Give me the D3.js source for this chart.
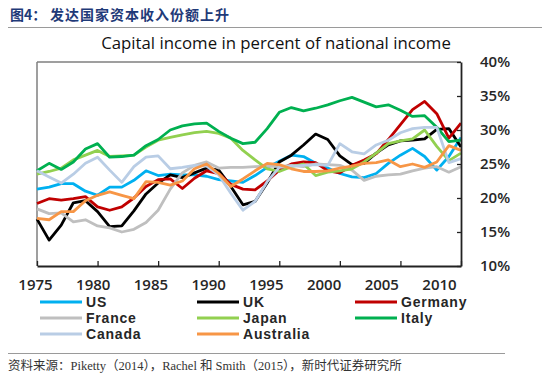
<!DOCTYPE html>
<html><head><meta charset="utf-8">
<script src="https://cdn.jsdelivr.net/npm/d3@7/dist/d3.min.js"></script>
<style>body{margin:0;background:#fff;} svg{display:block;}</style>
</head><body>
<svg id="c" width="550" height="380"></svg>
<script>
// ---- data ----
const years = [1975,1976,1977,1978,1979,1980,1981,1982,1983,1984,1985,1986,1987,1988,1989,1990,1991,1992,1993,1994,1995,1996,1997,1998,1999,2000,2001,2002,2003,2004,2005,2006,2007,2008,2009,2010];
const us        = [21.3,21.6,22.1,22.1,21.0,20.4,21.6,21.6,22.6,24.0,23.3,23.5,23.4,23.4,23.2,22.7,22.5,22.3,23.3,24.5,25.4,26.3,26.1,25.1,24.4,23.6,23.1,23.0,23.6,25.1,26.3,27.3,26.1,24.1,26.1,28.9];
const uk        = [16.9,13.8,16.0,19.3,19.6,18.0,15.8,15.9,18.1,20.6,22.2,23.4,23.0,23.7,24.4,24.1,21.7,19.0,19.5,22.2,25.3,26.3,27.8,29.4,28.6,26.2,24.9,25.1,26.6,27.8,28.4,28.5,28.7,30.1,30.2,27.5];
const germany   = [19.2,19.9,19.7,19.9,20.2,18.7,18.2,18.7,20.0,21.7,22.7,22.8,21.4,22.9,24.0,23.6,22.0,21.3,21.2,22.5,24.1,25.0,25.3,25.2,24.0,23.7,24.8,25.6,26.5,28.6,30.8,33.0,34.2,32.4,28.8,31.0];
const france    = [18.4,17.7,17.8,16.5,16.8,15.9,15.6,15.0,15.4,16.4,18.2,21.3,23.7,24.8,25.3,24.4,24.5,24.5,24.6,24.7,24.6,24.8,24.6,25.0,24.9,24.8,24.1,22.6,23.2,23.4,23.5,24.0,24.4,24.6,23.8,24.6];
const japan     = [23.5,23.9,24.4,25.6,26.3,27.0,26.1,26.2,26.3,27.5,28.5,28.9,29.3,29.6,29.8,29.5,28.8,27.0,25.6,24.3,23.9,24.6,25.0,23.3,23.8,24.0,24.3,25.3,26.6,28.0,28.4,28.7,30.0,27.6,25.5,26.6];
const italy     = [24.0,25.1,24.2,25.3,27.2,28.0,26.0,26.1,26.3,27.7,28.6,30.0,30.6,30.9,31.0,29.8,28.8,28.0,28.2,30.2,32.6,33.3,32.8,33.2,33.7,34.3,34.8,34.1,33.4,33.7,32.9,32.0,32.1,30.4,28.3,28.5];
const canada    = [24.0,23.1,22.2,23.5,25.1,26.0,24.1,22.3,24.6,26.0,26.2,24.3,24.5,24.8,24.7,23.4,20.7,18.2,19.5,22.4,24.5,24.7,24.8,24.9,24.8,28.0,26.8,26.5,27.8,28.5,29.6,30.2,30.4,30.4,25.2,25.8];
const australia = [17.0,16.8,18.0,18.0,19.6,20.4,20.9,20.4,19.9,22.4,22.3,21.9,22.5,24.3,25.0,23.6,21.7,22.8,24.0,25.1,24.9,24.3,23.9,23.9,24.0,24.4,24.7,25.1,25.2,25.6,24.6,25.0,24.5,25.3,27.7,27.0];
const seriesNames = ["US","UK","Germany","France","Japan","Italy","Canada","Australia"];
const seriesColors = ["#00B0F0","#000000","#C00000","#BFBFBF","#92D050","#00B050","#B9CDE5","#F79646"];
const yTicks = [10,15,20,25,30,35,40];
const xTicks = [1975,1980,1985,1990,1995,2000,2005,2010];
const chartTitle = "Capital income in percent of national income";
const headLabel = "图4：";
const headTitle = "发达国家资本收入份额上升";
const sourceText = "资料来源：Piketty（2014），Rachel 和 Smith（2015），新时代证券研究所";

const allSeries = [us,uk,germany,france,japan,italy,canada,australia];

// ---- layout ----
const svg = d3.select("#c");
const L=37, R=461, T=62, B=266;
const x = d3.scaleLinear().domain([1975,2010]).range([L,R]);
const xLab = d3.scaleLinear().domain([1975,2010]).range([35,439]);
const y = d3.scaleLinear().domain([10,40]).range([B,T]);

// header
svg.append("text").attr("x",10).attr("y",20)
  .attr("font-family","'Noto Sans CJK SC'").attr("font-weight","bold")
  .attr("font-size",14).attr("fill","#1F3A78").text(headLabel);
svg.append("text").attr("x",50).attr("y",20)
  .attr("font-family","'Noto Sans CJK SC'").attr("font-weight","bold")
  .attr("font-size",14).attr("letter-spacing",1).attr("fill","#1F3A78").text(headTitle);
svg.append("line").attr("x1",8).attr("x2",542).attr("y1",27.5).attr("y2",27.5)
  .attr("stroke","#9a9a9a").attr("stroke-width",1.2);

// chart title
svg.append("text").attr("x",276).attr("y",49).attr("text-anchor","middle")
  .attr("font-family","'Open Sans'").attr("font-size",16.8).attr("fill","#111")
  .text(chartTitle);

// frame top & left (gray)
svg.append("line").attr("x1",L).attr("x2",R).attr("y1",T).attr("y2",T).attr("stroke","#7f7f7f").attr("stroke-width",1.5);
svg.append("line").attr("x1",L).attr("x2",L).attr("y1",T).attr("y2",B).attr("stroke","#7f7f7f").attr("stroke-width",1.5);

// lines
const line = d3.line().x((d,i)=>x(years[i])).y(d=>y(d));
svg.append("g").selectAll("path").data(allSeries).join("path")
  .attr("d",line).attr("fill","none")
  .attr("stroke",(d,i)=>seriesColors[i]).attr("stroke-width",2.8)
  .attr("stroke-linejoin","round");

// right axis
const yAx = svg.append("g").attr("transform",`translate(${R},0)`)
  .call(d3.axisRight(y).tickValues(yTicks).tickSizeInner(-4).tickSizeOuter(0).tickPadding(19).tickFormat(d=>d+"%"));
yAx.select(".domain").attr("stroke","#222").attr("stroke-width",1.8);
yAx.selectAll(".tick line").attr("stroke","#222").attr("stroke-width",1.3);
yAx.selectAll("text").attr("font-family","'Open Sans'").attr("font-weight",600)
  .attr("font-size",15).attr("fill","#262626").attr("text-anchor","start");

// bottom axis
const xAx = svg.append("g").attr("transform",`translate(0,${B})`)
  .call(d3.axisBottom(x).tickValues(xTicks).tickSizeInner(-5).tickSizeOuter(0).tickFormat(""));
xAx.select(".domain").attr("stroke","#222").attr("stroke-width",1.8);
xAx.selectAll(".tick line").attr("stroke","#222").attr("stroke-width",1.3);
const xLabAx = svg.append("g").attr("transform",`translate(0,${B})`)
  .call(d3.axisBottom(xLab).tickValues(xTicks).tickSize(0).tickPadding(13).tickFormat(d3.format("d")));
xLabAx.select(".domain").remove();
xLabAx.selectAll("text").attr("font-family","'Open Sans'").attr("font-weight",600)
  .attr("font-size",15).attr("fill","#262626");

// legend
const legX = [40,197,355], legY = [302,318,334];
const leg = svg.append("g").selectAll("g").data(seriesNames).join("g")
  .attr("transform",(d,i)=>`translate(${legX[i%3]},${legY[Math.floor(i/3)]})`);
leg.append("line").attr("x1",0).attr("x2",42).attr("y1",0).attr("y2",0)
  .attr("stroke",(d,i)=>seriesColors[i]).attr("stroke-width",2.8);
leg.append("text").attr("x",46).attr("y",0).attr("dy","0.36em")
  .attr("font-family","'Liberation Sans'").attr("font-weight","bold").attr("font-size",14)
  .attr("letter-spacing",0.8).attr("fill","#262626").text(d=>d);

// footer
svg.append("line").attr("x1",8).attr("x2",505).attr("y1",353.5).attr("y2",353.5)
  .attr("stroke","#9a9a9a").attr("stroke-width",1.2);
svg.append("text").attr("x",8).attr("y",370)
  .attr("font-family","'Liberation Serif','Noto Sans CJK SC'").attr("font-size",12.5)
  .attr("fill","#333").text(sourceText);
</script>
</body></html>
